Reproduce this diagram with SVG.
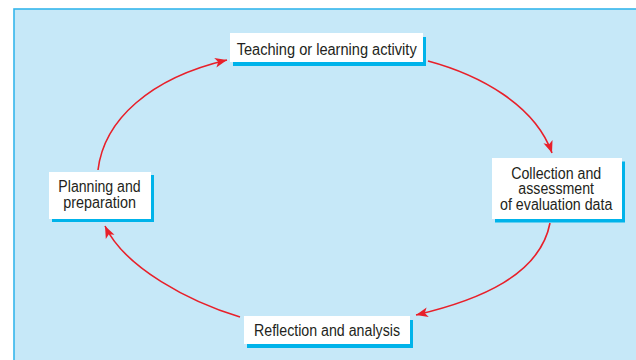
<svg xmlns="http://www.w3.org/2000/svg" width="636" height="360" viewBox="0 0 636 360">
<defs>
<style>
.panel{fill:#C6E8F8;stroke:#35B6EC;stroke-width:1.6}
.box{fill:#FFFFFF}
.shadow{fill:#00B3EA}
.lbl{font-family:"Liberation Sans",Arial,sans-serif;font-size:16px;fill:#231F20;text-anchor:middle}
.arc{fill:none;stroke:#E8202A;stroke-width:1.6}
</style>
<marker id="ah" markerUnits="userSpaceOnUse" markerWidth="16" markerHeight="12" refX="13" refY="6" orient="auto" viewBox="0 0 16 12">
<path d="M13,6 L1,1.2 L4,6 L1,10.8 Z" fill="#E8202A"/>
</marker>
</defs>
<rect class="panel" x="14" y="9" width="630" height="360"/>
<g id="connectors">
<path class="arc" d="M98,170 C104,120 150,78 227,60" marker-end="url(#ah)"/>
<path class="arc" d="M428,61 C480,75 535,105 552,153" marker-end="url(#ah)"/>
<path class="arc" d="M550,223 C540,275 480,300 416,315" marker-end="url(#ah)"/>
<path class="arc" d="M240,317 C190,302 125,268 105,226" marker-end="url(#ah)"/>
</g>
<g id="node-teaching">
<rect class="shadow" x="233" y="37" width="193" height="29"/>
<rect class="box" x="230" y="33" width="193" height="29"/>
<text class="lbl" x="326.7" y="54.5" textLength="180" lengthAdjust="spacingAndGlyphs">Teaching or learning activity</text>
</g>
<g id="node-collection">
<rect class="shadow" x="495" y="161.5" width="130" height="61"/>
<rect class="box" x="492" y="158" width="130" height="61"/>
<text class="lbl" x="556.2" y="178.5" textLength="90" lengthAdjust="spacingAndGlyphs">Collection and</text>
<text class="lbl" x="556.2" y="194" textLength="75.7" lengthAdjust="spacingAndGlyphs">assessment</text>
<text class="lbl" x="556.2" y="209.5" textLength="112.3" lengthAdjust="spacingAndGlyphs">of evaluation data</text>
</g>
<g id="node-reflection">
<rect class="shadow" x="247" y="320" width="166" height="28"/>
<rect class="box" x="244" y="316" width="166" height="28"/>
<text class="lbl" x="327" y="335.5" textLength="146" lengthAdjust="spacingAndGlyphs">Reflection and analysis</text>
</g>
<g id="node-planning">
<rect class="shadow" x="52" y="175" width="102" height="47"/>
<rect class="box" x="49" y="172" width="102" height="47"/>
<text class="lbl" x="99.5" y="192" textLength="82.3" lengthAdjust="spacingAndGlyphs">Planning and</text>
<text class="lbl" x="99.6" y="207.5" textLength="72.7" lengthAdjust="spacingAndGlyphs">preparation</text>
</g>
</svg>
